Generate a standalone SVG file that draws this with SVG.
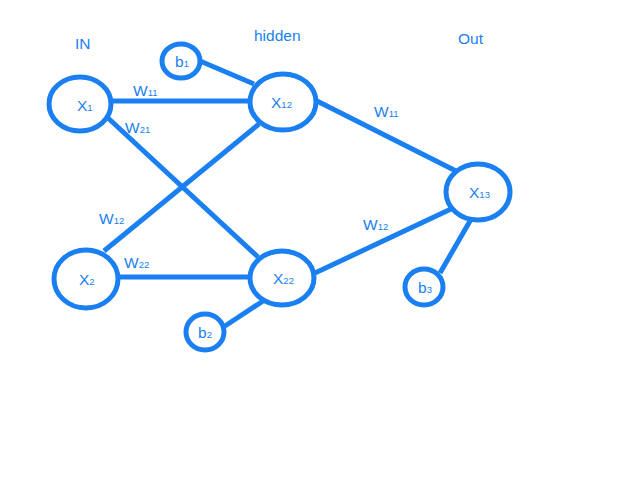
<svg xmlns="http://www.w3.org/2000/svg" width="640" height="480" viewBox="0 0 640 480">
<style>
.n{fill:none;stroke:#1a7ff0;stroke-width:5}
.e{stroke:#1a7ff0;stroke-width:5;fill:none}
text{font-family:"Liberation Sans",Arial,sans-serif;font-size:15.5px;fill:#1a7ff0}
.s{font-size:9.5px}
</style>
<rect width="640" height="480" fill="#fff"/>
<g id="connectors">
<line class="e" x1="113" y1="101" x2="248" y2="101"/>
<line class="e" x1="108" y1="118" x2="258" y2="257"/>
<line class="e" x1="104" y1="251" x2="259" y2="124"/>
<line class="e" x1="119" y1="277" x2="248" y2="277"/>
<line class="e" x1="200" y1="61" x2="254" y2="84"/>
<line class="e" x1="315" y1="100" x2="456" y2="171"/>
<line class="e" x1="315" y1="273" x2="451" y2="209"/>
<line class="e" x1="263" y1="301" x2="225" y2="326"/>
<line class="e" x1="470" y1="221" x2="440" y2="273"/>
</g>
<g id="labels">
<text x="75" y="49">IN</text>
<text x="254" y="41">hidden</text>
<text x="458" y="44">Out</text>
<text x="133" y="96">W<tspan class="s">11</tspan></text>
<text x="125" y="133">W<tspan class="s">21</tspan></text>
<text x="99" y="224">W<tspan class="s">12</tspan></text>
<text x="124" y="268">W<tspan class="s">22</tspan></text>
<text x="374" y="117">W<tspan class="s">11</tspan></text>
<text x="363" y="230">W<tspan class="s">12</tspan></text>
</g>
<g id="node-x1"><ellipse class="n" cx="80" cy="104" rx="31" ry="27"/><text x="77" y="111">X<tspan class="s">1</tspan></text></g>
<g id="node-x2"><ellipse class="n" cx="86" cy="279" rx="32" ry="29"/><text x="79" y="285">X<tspan class="s">2</tspan></text></g>
<g id="node-x12"><ellipse class="n" cx="283" cy="102" rx="33" ry="28"/><text x="271" y="108">X<tspan class="s">12</tspan></text></g>
<g id="node-x22"><ellipse class="n" cx="282" cy="278" rx="32" ry="27"/><text x="273" y="284">X<tspan class="s">22</tspan></text></g>
<g id="node-x13"><ellipse class="n" cx="478" cy="192" rx="32" ry="28"/><text x="469" y="198">X<tspan class="s">13</tspan></text></g>
<g id="node-b1"><ellipse class="n" cx="181" cy="61" rx="19" ry="17"/><text x="175" y="67">b<tspan class="s">1</tspan></text></g>
<g id="node-b2"><ellipse class="n" cx="205" cy="332" rx="19" ry="18"/><text x="198" y="338">b<tspan class="s">2</tspan></text></g>
<g id="node-b3"><ellipse class="n" cx="424" cy="287" rx="19" ry="18"/><text x="418" y="293">b<tspan class="s">3</tspan></text></g>
</svg>
